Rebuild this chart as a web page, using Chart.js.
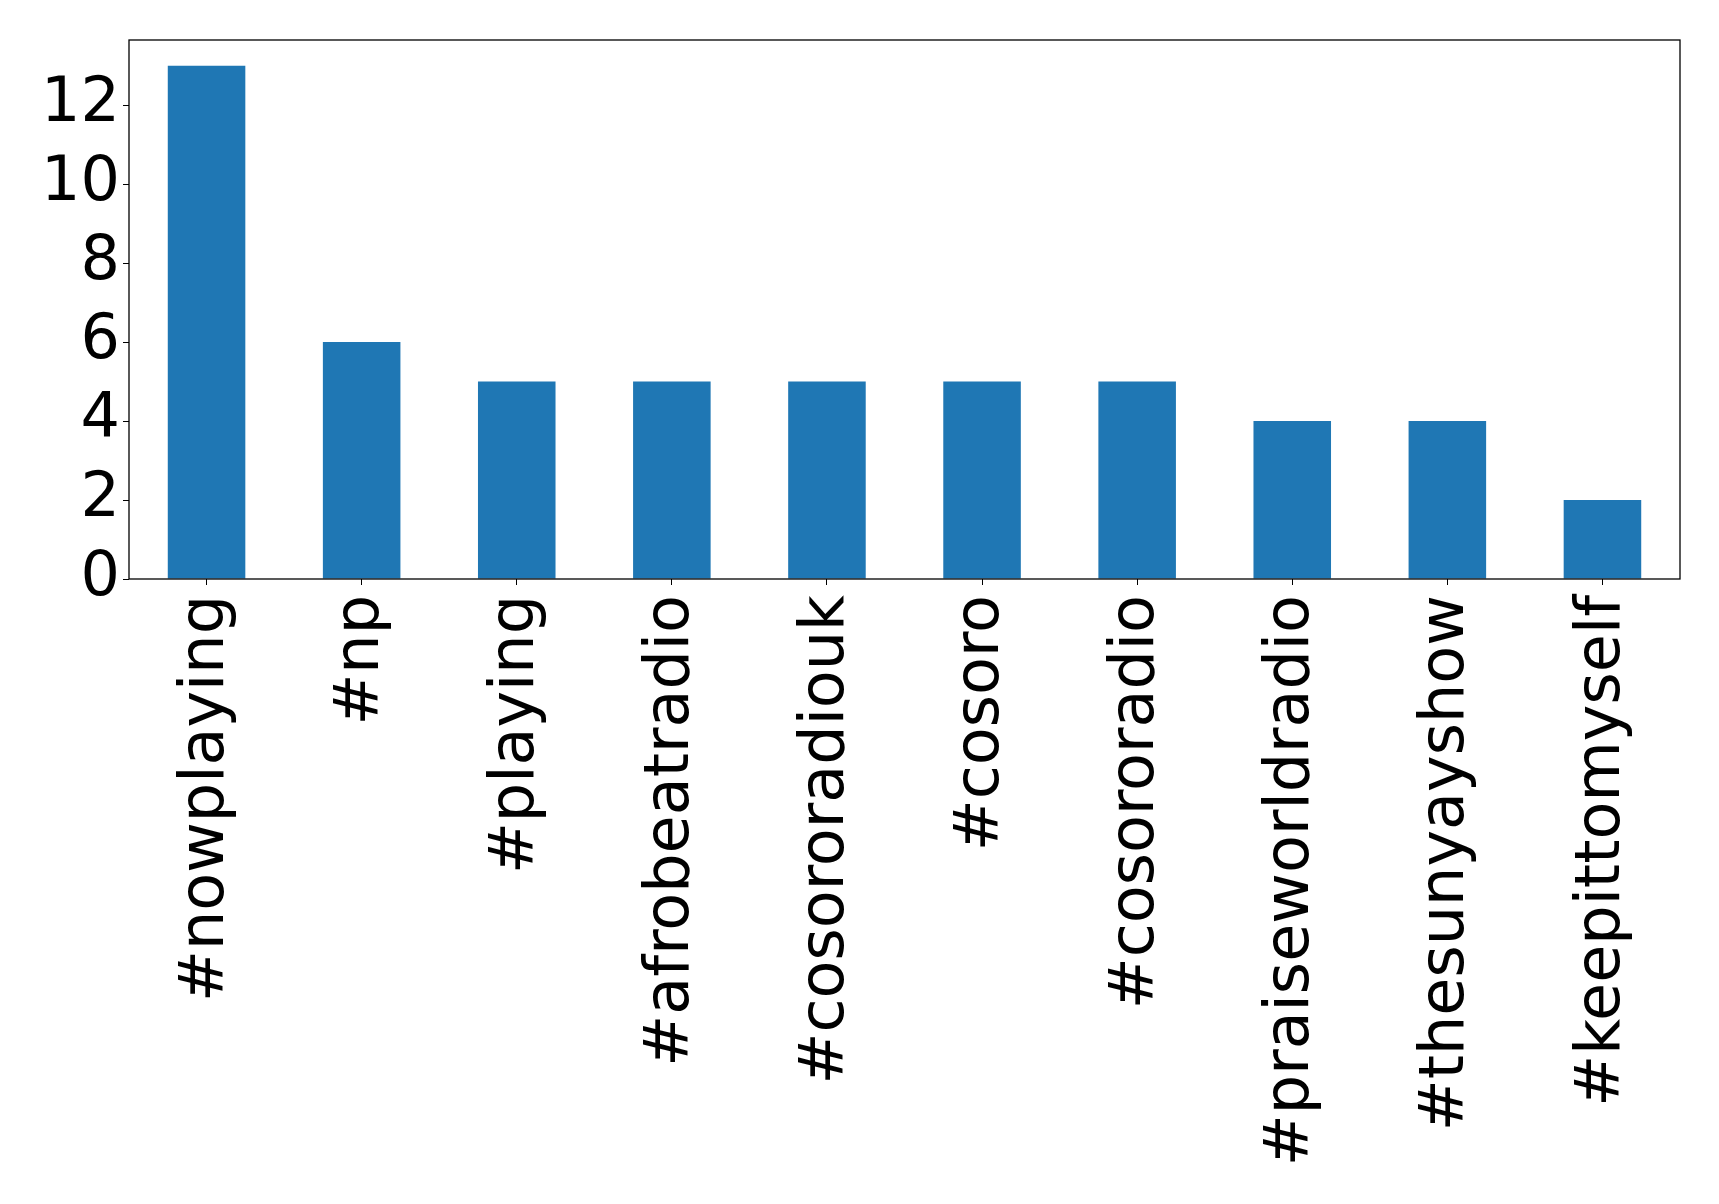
<!DOCTYPE html>
<html>
<head>
<meta charset="utf-8">
<script src="https://cdn.jsdelivr.net/npm/chart.js@4"></script>
<style>
    html, body { margin: 0; padding: 0; background: #ffffff; }
    #wrap { width: 1719px; height: 1204px; }
</style>
</head>
<body>
<div id="wrap"><canvas id="hashtagChart" width="1719" height="1204"></canvas></div>
<script>
const tags = ['#nowplaying', '#np', '#playing', '#afrobeatradio', '#cosororadiouk',
    '#cosoro', '#cosororadio', '#praiseworldradio', '#thesunyayshow', '#keepittomyself'];
const counts = [13, 6, 5, 5, 5, 5, 5, 4, 4, 2];
const yTicks = [0, 2, 4, 6, 8, 10, 12];

const FONT = { family: '"DejaVu Sans", sans-serif', size: 62, lineHeight: 1.0 };

// matplotlib-style box round the plot area
const frame = {
    id: 'frame',
    afterDraw(chart) {
        const a = chart.chartArea;
        const c = chart.ctx;
        c.save();
        c.strokeStyle = '#000';
        c.lineWidth = 1.3;
        c.strokeRect(a.left, a.top, a.right - a.left, a.bottom - a.top);
        c.restore();
    }
};

const ctx = document.getElementById('hashtagChart').getContext('2d');
const hashtagChart = new Chart(ctx, {
    type: 'bar',
    data: {
        labels: tags,
        datasets: [{
            data: counts,
            backgroundColor: '#1f77b4',
            categoryPercentage: 1.0,
            barPercentage: 0.5
        }]
    },
    options: {
        responsive: false,
        animation: false,
        layout: { padding: { top: 40, right: 39, left: 0, bottom: 0 } },
        plugins: { legend: { display: false }, tooltip: { enabled: false } },
        scales: {
            x: {
                grid: { display: true, offset: false, drawOnChartArea: false, drawTicks: true, tickLength: 6, color: '#000' },
                border: { display: false },
                ticks: {
                    color: '#000', font: FONT, padding: 10,
                    minRotation: 90, maxRotation: 90, autoSkip: false
                },
                afterFit(scale) { scale.height = 625; }
            },
            y: {
                min: 0,
                max: 13.65,
                grid: { display: true, drawOnChartArea: false, drawTicks: true, tickLength: 6, color: '#000' },
                border: { display: false },
                afterBuildTicks(scale) { scale.ticks = yTicks.map(v => ({ value: v })); },
                ticks: { color: '#000', font: FONT, padding: 3 },
                afterFit(scale) {
                    scale.width = 129;
                    scale.paddingTop = 0;
                    scale.paddingBottom = 0;
                }
            }
        }
    },
    plugins: [frame]
});
</script>
</body>
</html>
